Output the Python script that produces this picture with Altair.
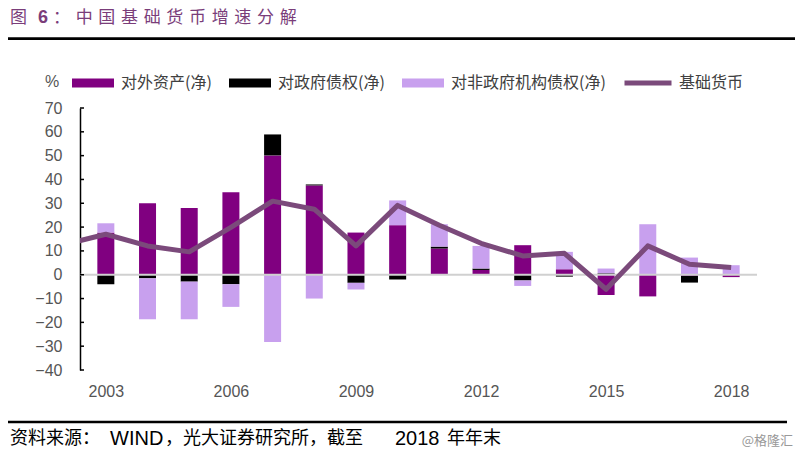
import altair as alt
import pandas as pd

# ---------------- data ----------------
years = list(range(2003, 2019))
foreign_assets = [17.7, 30.0, 28.0, 34.6, 50.1, 37.5, 17.7, 20.8, 11.0, 2.0, 12.4, 2.3, -8.5, -9.1, -0.5, -1.0]
gov_claims = [-4.0, -1.5, -2.9, -4.0, 8.8, 0.4, -3.4, -2.0, 0.8, 0.6, -2.4, -0.8, 0.6, 0.0, -2.8, 0.0]
nongov_claims = [3.9, -17.2, -15.8, -9.5, -28.2, -10.0, -2.8, 10.4, 9.4, 9.5, -2.3, 7.3, 2.0, 21.2, 7.2, 4.0]
line_years = list(range(2002, 2019))
base_money = [12.7, 17.0, 12.1, 9.6, 19.9, 30.9, 27.5, 12.1, 29.1, 20.8, 13.2, 7.9, 9.0, -6.1, 12.1, 4.4, 3.0]

series_names = ["对外资产(净)", "对政府债权(净)", "对非政府机构债权(净)"]
line_name = "基础货币"
y_ticks = list(range(-40, 71, 10))
x_label_years = [2003, 2006, 2009, 2012, 2015, 2018]

title_prefix = "图"
title_number = "6"
title_rest = "：中国基础货币增速分解"
source_parts = ["资料来源：", "WIND", "，光大证券研究所，截至", "2018", "年年末"]
watermark = "@格隆汇"

# ---------------- tables ----------------
rows = []
for i, yr in enumerate(years):
    for k, (name, vals) in enumerate(zip(series_names, [foreign_assets, gov_claims, nongov_claims])):
        rows.append({"year": yr, "series": name, "value": vals[i], "order": k})
bars_df = pd.DataFrame(rows)
line_df = pd.DataFrame({"year": line_years, "value": base_money, "series": line_name})

W, H = 677, 262
FONT = "Noto Sans CJK SC"
NUMFONT = "Liberation Sans"
SP = "\u2004"

xscale = alt.Scale(domain=[2002.5, 2018.5], nice=False, zero=False)
yscale = alt.Scale(domain=[-40, 70], nice=False, zero=False)

X_AX = alt.Axis(values=x_label_years, format="d", ticks=False, domain=False, grid=False,
                labelPadding=13, labelFontSize=16, labelFont=NUMFONT,
                labelColor="#555555", title=None)
Y_AX = alt.Axis(values=y_ticks, ticks=False, grid=False, domainColor="#000000",
                domainWidth=1.5, labelPadding=18, labelFontSize=16, labelFont=NUMFONT,
                labelColor="#555555", title=None)

bars = alt.Chart(bars_df).mark_bar(size=17).encode(
    x=alt.X("year:Q", scale=xscale, axis=X_AX),
    y=alt.Y("value:Q", stack="zero", scale=yscale, axis=Y_AX),
    color=alt.Color("series:N",
                    scale=alt.Scale(domain=series_names, range=["#800080", "#000000", "#C8A0EE"]),
                    legend=alt.Legend(orient="none", legendX=-8, legendY=-46, direction="horizontal",
                                      title=None, symbolType="M-1,-0.22H1V0.22H-1Z", symbolSize=1764,
                                      symbolStrokeWidth=0, symbolOpacity=1, labelFont=FONT,
                                      labelFontSize=16, labelColor="#404040", labelOffset=7,
                                      columnPadding=17)),
    order=alt.Order("order:Q", sort="ascending"),
)

tick_rules = alt.Chart(pd.DataFrame({"value": y_ticks})).mark_rule(color="#000000", strokeWidth=1.5).encode(
    y=alt.Y("value:Q", scale=yscale, axis=Y_AX),
    x=alt.value(0), x2=alt.value(4),
)

zero_line = alt.Chart(pd.DataFrame({"value": [0]})).mark_rule(color="#D0D0D0", strokeWidth=2).encode(
    y=alt.Y("value:Q", scale=yscale, axis=Y_AX),
    x=alt.value(0), x2=alt.value(W),
)

line = alt.Chart(line_df).mark_line(clip=True, strokeWidth=5, strokeJoin="round", strokeCap="butt").encode(
    x=alt.X("year:Q", scale=xscale, axis=X_AX),
    y=alt.Y("value:Q", scale=yscale, axis=Y_AX),
    stroke=alt.Stroke("series:N", scale=alt.Scale(domain=[line_name], range=["#7B4A7B"]),
                      legend=alt.Legend(orient="none", legendX=542, legendY=-51, direction="horizontal",
                                        title=None, symbolType="stroke", symbolSize=2209,
                                        symbolStrokeWidth=5, labelFont=FONT, labelFontSize=16,
                                        labelColor="#404040", labelOffset=5)),
)


def text_layer(txt, x, y, size=16, color="#000000", font=FONT, weight="normal", align="left"):
    return alt.Chart(alt.Data(values=[{"t": txt}])).mark_text(
        align=align, baseline="middle", fontSize=size, color=color, font=font, fontWeight=weight
    ).encode(x=alt.value(x), y=alt.value(y), text="t:N")


def rule_layer(x1, x2, y, width, color="#000000"):
    return alt.Chart(alt.Data(values=[{"a": 1}])).mark_rule(color=color, strokeWidth=width).encode(
        x=alt.value(x1), x2=alt.value(x2), y=alt.value(y)
    )


title_color = "#7A3D7A"
deco = [
    text_layer(title_prefix, -70, -90, size=17, color=title_color),
    text_layer(title_number, -42, -90, size=18, color=title_color, font=NUMFONT, weight="bold"),
    text_layer(title_rest[0] + SP + SP.join(title_rest[1:]), -27, -90, size=17, color=title_color),
    rule_layer(-72, 715, -69.3, 2.7),
    text_layer("%", -35, -26, size=16, color="#555555", font=NUMFONT),
    rule_layer(-72, 707, 314, 2.5),
    text_layer(source_parts[0], -70, 331, size=18),
    text_layer(source_parts[1], 30, 331, size=20, font=NUMFONT),
    text_layer(source_parts[2], 85, 331, size=18),
    text_layer(source_parts[3], 315, 331, size=20, font=NUMFONT),
    text_layer(source_parts[4], 367, 331, size=18),
    text_layer(watermark, 713, 333, size=13, color="#999999", align="right"),
]

chart = alt.layer(bars, zero_line, tick_rules, line, *deco).properties(
    width=W, height=H,
    autosize=alt.AutoSizeParams(type="none"),
    padding={"left": 72, "top": 100, "right": 38, "bottom": 78},
).configure_view(stroke=None).resolve_scale(color="independent")

chart.save("out.html", embed_options={"renderer": "svg", "actions": False})
